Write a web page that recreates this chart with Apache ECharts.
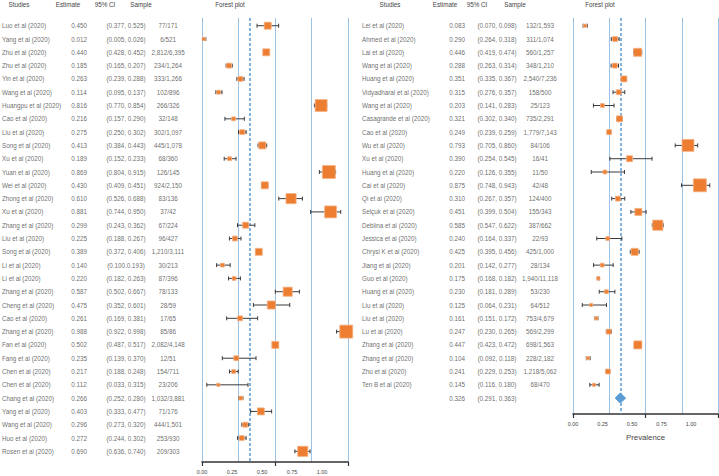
<!DOCTYPE html>
<html><head><meta charset="utf-8">
<script src="https://cdn.jsdelivr.net/npm/echarts@6/dist/echarts.min.js"></script>
<style>html,body{margin:0;padding:0;background:#fff}#c{width:719px;height:476px}</style>
</head><body><div id="c"></div>
<script>
// ---------- DATA ----------
const studiesL = ["Luo et al (2020)","Yang et al (2020)","Zhu et al (2020)","Zhu et al (2020)","Yin et al (2020)","Wang et al (2020)","Huangpu et al (2020)","Cao et al (2020)","Liu et al (2020)","Song et al (2020)","Xu et al (2020)","Yuan et al (2020)","Wei et al (2020)","Zhong et al (2020)","Xu et al (2020)","Zhang et al (2020)","Liu et al (2020)","Song et al (2020)","Li et al (2020)","Li et al (2020)","Zhang et al (2020)","Cheng et al (2020)","Cao et al (2020)","Zhang et al (2020)","Fan et al (2020)","Fang et al (2020)","Chen et al (2020)","Chen et al (2020)","Chang et al (2020)","Yang et al (2020)","Wang et al (2020)","Huo et al (2020)","Rosen et al (2020)"];
const estL = [0.450,0.012,0.440,0.185,0.263,0.114,0.816,0.216,0.275,0.413,0.189,0.869,0.430,0.610,0.881,0.299,0.225,0.389,0.140,0.220,0.587,0.475,0.261,0.988,0.502,0.235,0.217,0.112,0.266,0.403,0.296,0.272,0.690];
const loL = [0.377,0.005,0.428,0.165,0.239,0.095,0.770,0.157,0.250,0.384,0.152,0.804,0.409,0.526,0.744,0.243,0.188,0.372,0.100,0.182,0.502,0.352,0.169,0.922,0.487,0.139,0.188,0.033,0.252,0.333,0.273,0.244,0.636];
const hiL = [0.525,0.026,0.452,0.207,0.288,0.137,0.854,0.290,0.302,0.443,0.233,0.915,0.451,0.688,0.950,0.362,0.267,0.406,0.193,0.263,0.667,0.601,0.381,0.998,0.517,0.370,0.248,0.315,0.280,0.477,0.320,0.302,0.740];
const ciTextL = ["(0.377, 0.525)","(0.005, 0.026)","(0.428, 0.452)","(0.165, 0.207)","(0.239, 0.288)","(0.095, 0.137)","(0.770, 0.854)","(0.157, 0.290)","(0.250, 0.302)","(0.384, 0.443)","(0.152, 0.233)","(0.804, 0.915)","(0.409, 0.451)","(0.526, 0.688)","(0.744, 0.950)","(0.243, 0.362)","(0.188, 0.267)","(0.372, 0.406)","(0.100.0.193)","(0.182, 0.263)","(0.502, 0.667)","(0.352, 0.601)","(0.169, 0.381)","(0.922, 0.998)","(0.487, 0.517)","(0.139, 0.370)","(0.188, 0.248)","(0.033, 0.315)","(0.252, 0.280)","(0.333, 0.477)","(0.273, 0.320)","(0.244, 0.302)","(0.636, 0.740)"];
const sampleL = ["77/171","6/521","2,812/6,395","234/1,264","333/1,266","102/896","266/326","32/148","302/1,097","445/1,078","68/360","126/145","924/2,150","83/136","37/42","67/224","96/427","1,210/3,111","30/213","87/396","78/133","28/59","17/65","85/86","2,082/4,148","12/51","154/711","23/206","1,032/3,881","71/176","444/1,501","253/930","209/303"];
const weightL = [2.0,0.9,2.0,1.4,1.4,1.1,3.4,1.1,1.4,2.0,1.1,3.7,2.0,2.9,3.4,1.7,1.4,2.0,1.1,1.1,2.6,2.3,1.4,3.7,2.0,1.4,1.1,0.9,1.1,2.0,1.4,1.4,2.9];

const studiesR = ["Lei et al (2020)","Ahmed et al (2020)","Lai et al (2020)","Wang et al (2020)","Huang et al (2020)","Vidyadharal et al (2020)","Wang et al (2020)","Casagrande et al (2020)","Cao et al (2020)","Wu et al (2020)","Xu et al (2020)","Huang et al (2020)","Cai et al (2020)","Qi et al (2020)","Selçuk et al (2020)","Deblina et al (2020)","Jessica et al (2020)","Chrysi K et al (2020)","Jiang et al (2020)","Guo et al (2020)","Huang et al (2020)","Liu et al (2020)","Liu et al (2020)","Lu et al (2020)","Zhang et al (2020)","Zhang et al (2020)","Zhu et al (2020)","Ten B et al (2020)"];
const estR = [0.083,0.290,0.446,0.288,0.351,0.315,0.203,0.321,0.249,0.793,0.390,0.220,0.875,0.310,0.451,0.585,0.240,0.425,0.201,0.175,0.230,0.125,0.161,0.247,0.447,0.104,0.241,0.145];
const loR = [0.070,0.264,0.419,0.263,0.335,0.276,0.141,0.302,0.239,0.705,0.254,0.126,0.748,0.267,0.399,0.547,0.164,0.395,0.142,0.168,0.181,0.064,0.151,0.230,0.423,0.092,0.229,0.116];
const hiR = [0.098,0.318,0.474,0.314,0.367,0.357,0.283,0.340,0.259,0.860,0.545,0.355,0.943,0.357,0.504,0.622,0.337,0.456,0.277,0.182,0.289,0.231,0.172,0.265,0.472,0.118,0.253,0.180];
const sampleR = ["132/1,593","311/1,074","560/1,257","348/1,210","2,540/7,236","158/500","25/123","735/2,291","1,779/7,143","84/106","16/41","11/50","42/48","124/400","155/343","387/662","22/93","425/1,000","28/134","1,940/11,118","53/230","64/512","753/4,679","569/2,299","698/1,563","228/2,182","1,218/5,062","68/470"];
const weightR = [0.9,1.4,2.3,1.4,1.7,1.4,1.1,1.7,1.4,3.4,1.7,1.1,3.7,1.4,2.0,2.9,1.1,2.0,1.1,0.9,1.1,0.9,0.9,1.4,2.3,0.9,1.4,0.9];

const pooledEst = [0.326];
const pooledLo = [0.291];
const pooledHi = [0.363];

const tickLabels = ["0.00","0.25","0.50","0.75","1.00"];
const headers = ["Studies","Estimate","95% CI","Sample","Forest plot"];
const axisTitle = "Prevalence";

// ---------- STYLE ----------
const FONT = "'Liberation Sans',Arial,sans-serif";
const TXT = '#454545';
const FS = 6.3;
const GRIDC = '#9DC3E6';
const ORANGE = '#ED7D31';
const BLUE = '#5B9BD5';
const ROWSTEP = 13.3;

const fmt3 = v => v.toFixed(3);
const ciFmt = (a,b) => '(' + fmt3(a) + ', ' + fmt3(b) + ')';

function forestItem(params, api){
  const est = api.value(0), lo = api.value(1), hi = api.value(2), row = api.value(3), w = api.value(4);
  const c = api.coord([est,row]), a = api.coord([lo,row]), b = api.coord([hi,row]);
  const s = w*3.5, y = c[1];
  const ls = {stroke:'#3a3a3a', lineWidth:1};
  return {type:'group', children:[
    {type:'line', shape:{x1:a[0],y1:y,x2:b[0],y2:y}, style:ls},
    {type:'line', shape:{x1:a[0],y1:y-2,x2:a[0],y2:y+2}, style:ls},
    {type:'line', shape:{x1:b[0],y1:y-2,x2:b[0],y2:y+2}, style:ls},
    {type:'rect', shape:{x:c[0]-s/2,y:y-s/2,width:s,height:s}, style:{fill:ORANGE, stroke:'#F4B183', lineWidth:0.8}}
  ]};
}
function diamondItem(params, api){
  const row = api.value(3);
  const c = api.coord([api.value(0),row]), a = api.coord([api.value(1),row]), b = api.coord([api.value(2),row]);
  const h = 5;
  return {type:'polygon', shape:{points:[[a[0],c[1]],[c[0],c[1]-h],[b[0],c[1]],[c[0],c[1]+h]]}, style:{fill:BLUE, stroke:BLUE}};
}

const nL = studiesL.length, nR = studiesR.length;
const yMinL = -0.58, yMaxL = yMinL + 444/ROWSTEP;
const yMaxR = yMinL + 396/ROWSTEP;

function dataAxis(grid){
  return {type:'value', gridIndex:grid, min:0, max:1, interval:0.25, position:'bottom',
    axisLine:{show:true, onZero:false, lineStyle:{color:'#333', width:1.5}},
    axisTick:{show:false}, axisLabel:{show:false},
    splitLine:{show:true, lineStyle:{color:GRIDC, width:1}}};
}
function tickAxis(grid){
  return {type:'value', gridIndex:grid, min:0, max:1, interval:0.5, position:'bottom',
    axisLine:{show:false, onZero:false}, axisTick:{show:true, length:4, lineStyle:{color:'#333', width:1.2}},
    axisLabel:{show:false}, splitLine:{show:false}};
}
function labelAxis(grid, max, name){
  return {type:'value', gridIndex:grid, min:0, max:max, interval:0.25, position:'bottom',
    axisLine:{show:false, onZero:false}, axisTick:{show:false}, splitLine:{show:false},
    axisLabel:{show:true, margin:7, showMaxLabel:false, fontFamily:FONT, fontSize:5.5, color:TXT,
      formatter:(v)=>{const k=Math.round(v/0.25); return tickLabels[k]!==undefined && Math.abs(v-k*0.25)<1e-6 ? tickLabels[k] : '';}},
    name:name||'', nameLocation:'middle', nameGap:19,
    nameTextStyle:{fontFamily:FONT, fontSize:7.8, color:TXT}};
}
function hiddenX(grid, max){
  return {type:'value', gridIndex:grid, min:0, max:max, show:false, axisLine:{onZero:false}};
}
function hiddenY(grid, max){
  return {type:'value', gridIndex:grid, inverse:true, min:yMinL, max:max, show:false};
}

function textSeries(xi, yi, colX, texts, align){
  return {type:'scatter', xAxisIndex:xi, yAxisIndex:yi, symbolSize:0, silent:true, clip:false,
    data: texts.map((t,i)=>[colX, i]),
    label:{show:true, position: align==='left' ? 'right' : 'inside', distance:0,
      formatter:(p)=>texts[p.dataIndex], fontFamily:FONT, fontSize:FS, color:TXT}};
}

const estTextR = estR.map(fmt3).concat(pooledEst.map(fmt3));
const ciTextR = estR.map((v,i)=>ciFmt(loR[i],hiR[i])).concat(pooledEst.map((v,i)=>ciFmt(pooledLo[i],pooledHi[i])));

// header graphics
const hdrPosL = [19, 68, 105, 141, 230];
const hdrPosR = [390, 445, 477, 515, 600];
const graphics = [];
[hdrPosL, hdrPosR].forEach(pos => headers.forEach((h,k)=>{
  graphics.push({type:'text', x:pos[k], y:4, silent:true,
    style:{text:h, align:'center', verticalAlign:'middle', textAlign:'center', textVerticalAlign:'middle',
      font: FS + 'px ' + FONT, fill:TXT}});
}));

const option = {
  animation:false,
  backgroundColor:'#fff',
  graphic: graphics,
  grid:[
    {left:202, top:18, width:146, height:444},
    {left:573, top:18, width:145, height:396},
    {left:0, top:18, width:190, height:444},
    {left:360, top:18, width:200, height:396}
  ],
  xAxis:[
    dataAxis(0), tickAxis(0), labelAxis(0, 146/120),
    dataAxis(1), tickAxis(1), labelAxis(1, 145/118, axisTitle),
    hiddenX(2, 190), hiddenX(3, 200)
  ],
  yAxis:[ hiddenY(0, yMaxL), hiddenY(1, yMaxR), hiddenY(2, yMaxL), hiddenY(3, yMaxR) ],
  series:[
    {type:'custom', xAxisIndex:0, yAxisIndex:0, renderItem:forestItem, clip:false, z:5,
      encode:{x:[0,1,2], y:3},
      data: estL.map((v,i)=>[v, loL[i], hiL[i], i, weightL[i]]),
      markLine:{silent:true, symbol:'none', label:{show:false}, animation:false,
        lineStyle:{type:[3,2], color:BLUE, width:1.5}, data:[{xAxis:pooledEst[0]}]}},
    {type:'custom', xAxisIndex:3, yAxisIndex:1, renderItem:forestItem, clip:false, z:5,
      encode:{x:[0,1,2], y:3},
      data: estR.map((v,i)=>[v, loR[i], hiR[i], i, weightR[i]]),
      markLine:{silent:true, symbol:'none', label:{show:false}, animation:false,
        lineStyle:{type:[3,2], color:BLUE, width:1.5}, data:[{xAxis:pooledEst[0]}]}},
    {type:'custom', xAxisIndex:3, yAxisIndex:1, renderItem:diamondItem, clip:false, z:6,
      encode:{x:[0,1,2], y:3},
      data: pooledEst.map((v,i)=>[v, pooledLo[i], pooledHi[i], nR])},
    textSeries(6, 2, 2, studiesL, 'left'),
    textSeries(6, 2, 79, estL.map(fmt3), 'center'),
    textSeries(6, 2, 126, ciTextL, 'center'),
    textSeries(6, 2, 168, sampleL, 'center'),
    textSeries(7, 3, 2, studiesR, 'left'),
    textSeries(7, 3, 97, estTextR, 'center'),
    textSeries(7, 3, 137, ciTextR, 'center'),
    textSeries(7, 3, 180, sampleR, 'center')
  ]
};
const chart = echarts.init(document.getElementById('c'), null, {renderer:'svg', width:719, height:476});
chart.setOption(option);
</script>
</body></html>
